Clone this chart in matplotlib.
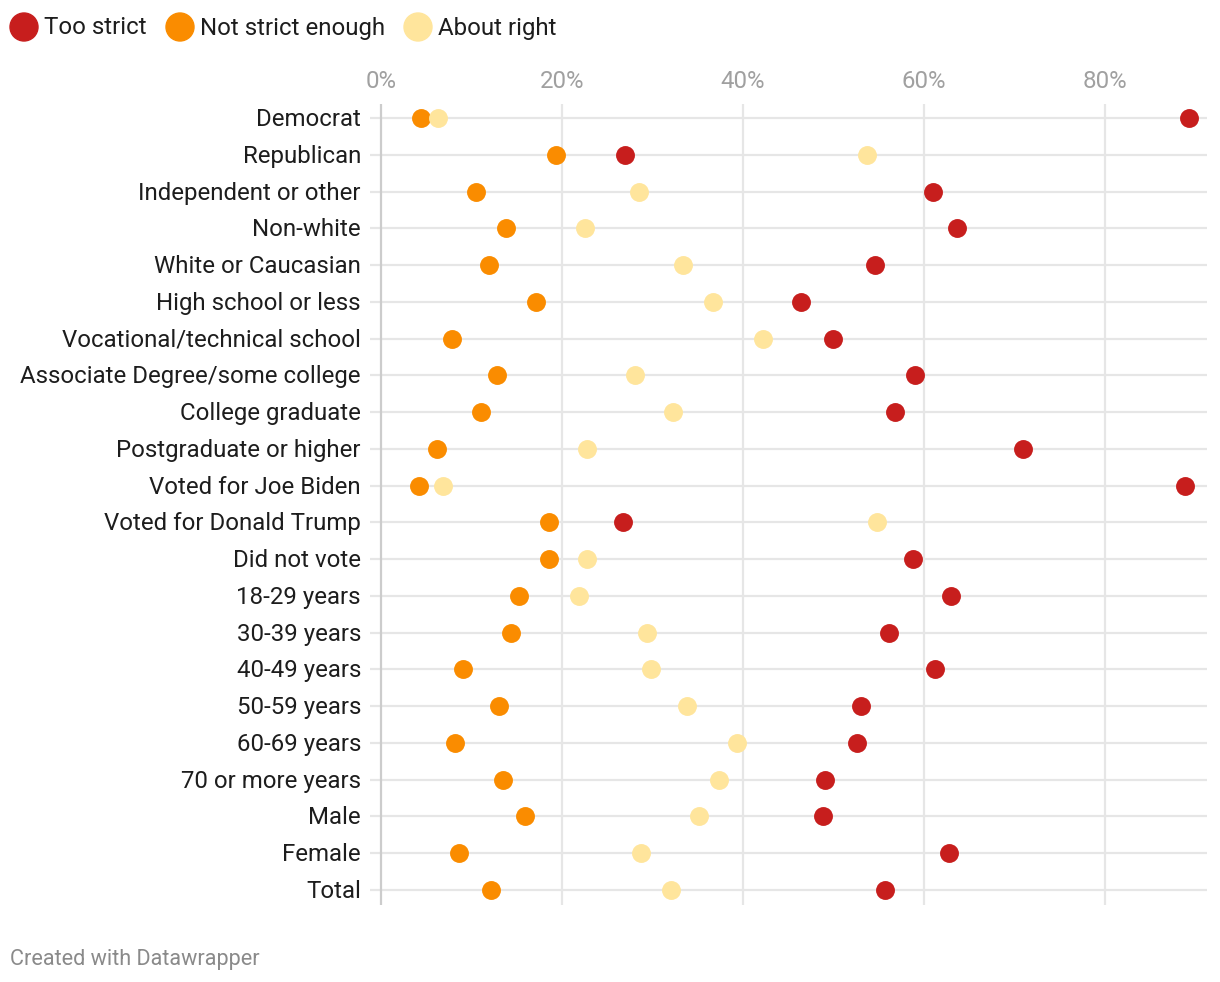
import matplotlib
matplotlib.use("Agg")
import matplotlib.pyplot as plt
from matplotlib.patches import Ellipse
from matplotlib.transforms import offset_copy

plt.rcParams['font.family'] = ['Roboto', 'DejaVu Sans']

categories = ["Democrat", "Republican", "Independent or other", "Non-white",
              "White or Caucasian", "High school or less", "Vocational/technical school",
              "Associate Degree/some college", "College graduate", "Postgraduate or higher",
              "Voted for Joe Biden", "Voted for Donald Trump", "Did not vote",
              "18-29 years", "30-39 years", "40-49 years", "50-59 years", "60-69 years",
              "70 or more years", "Male", "Female", "Total"]

too_strict = [89.3, 27.0, 61.0, 63.6, 54.6, 46.4, 49.9, 59.0, 56.8, 70.9, 88.8, 26.7,
              58.8, 63.0, 56.1, 61.2, 53.0, 52.6, 49.1, 48.8, 62.8, 55.7]
not_strict_enough = [4.4, 19.3, 10.5, 13.8, 11.9, 17.1, 7.8, 12.8, 11.0, 6.2, 4.2, 18.6,
                     18.6, 15.2, 14.4, 9.1, 13.0, 8.2, 13.5, 15.9, 8.6, 12.2]
about_right = [6.3, 53.7, 28.5, 22.5, 33.4, 36.7, 42.2, 28.1, 32.3, 22.8, 6.9, 54.8,
               22.8, 21.9, 29.4, 29.8, 33.8, 39.3, 37.3, 35.1, 28.7, 32.0]

series_names = ["Too strict", "Not strict enough", "About right"]
colors = ["#c71e1d", "#fa8c00", "#ffe59c"]
xticks = [0, 20, 40, 60, 80]
xtick_labels = ["0%", "20%", "40%", "60%", "80%"]

W, H = 1220, 982
fig = plt.figure(figsize=(W / 100, H / 100), dpi=100)

# axes in pixel coordinates
ax_left, ax_right, ax_top, ax_bottom = 370, 1207, 104, 905
ax = fig.add_axes([ax_left / W, 1 - ax_bottom / H, (ax_right - ax_left) / W, (ax_bottom - ax_top) / H])

px_per_pct = (1105 - 381) / 80.0
xmin = -(381 - ax_left) / px_per_pct
xmax = (ax_right - 381) / px_per_pct
ax.set_xlim(xmin, xmax)

row_sp = (890 - 118) / 21.0
ytop = -(118 - ax_top) / row_sp
ybot = (ax_bottom - 118) / row_sp
ax.set_ylim(ybot, ytop)

n = len(categories)
ys = list(range(n))

# grid lines
for y in ys:
    ax.axhline(y, color="#e6e6e6", lw=1.6, zorder=1)
for xt in xticks:
    ax.axvline(xt, color="#cccccc" if xt == 0 else "#e6e6e6", lw=1.6, zorder=1)

for vals, c in zip([too_strict, not_strict_enough, about_right], colors):
    ax.scatter(vals, ys, s=185, color=c, zorder=3, linewidths=0)

for s in ax.spines.values():
    s.set_visible(False)
ax.tick_params(length=0)
ax.set_xticks([])
ax.set_yticks([])

# y labels (shifted down ~2 px)
lab_tr = offset_copy(ax.transData, fig=fig, x=0, y=-1.5, units='dots')
for y, lab in zip(ys, categories):
    ax.text(xmin - 9 / px_per_pct, y, lab, ha="right", va="center",
            fontsize=17.3, color="#1d1d1d", transform=lab_tr)

# x tick labels at top
for xt, lab in zip(xticks, xtick_labels):
    fig.text((381 + xt * px_per_pct) / W, 1 - 81.5 / H, lab, ha="center", va="center",
             fontsize=17.3, color="#a0a0a0")

# legend
leg_circles = [24, 180, 418]
for cx, c, name in zip(leg_circles, colors, series_names):
    fig.patches.append(Ellipse((cx / W, 1 - 27 / H), 28 / W, 28 / H,
                               transform=fig.transFigure, color=c, figure=fig))
    fig.text((cx + 20) / W, 1 - 28 / H, name, ha="left", va="center",
             fontsize=17.3, color="#1d1d1d")

fig.text(10 / W, 1 - 959 / H, "Created with Datawrapper", ha="left", va="center",
         fontsize=15.6, color="#8a8a8a")

fig.savefig("out.png", dpi=100, facecolor="white")
